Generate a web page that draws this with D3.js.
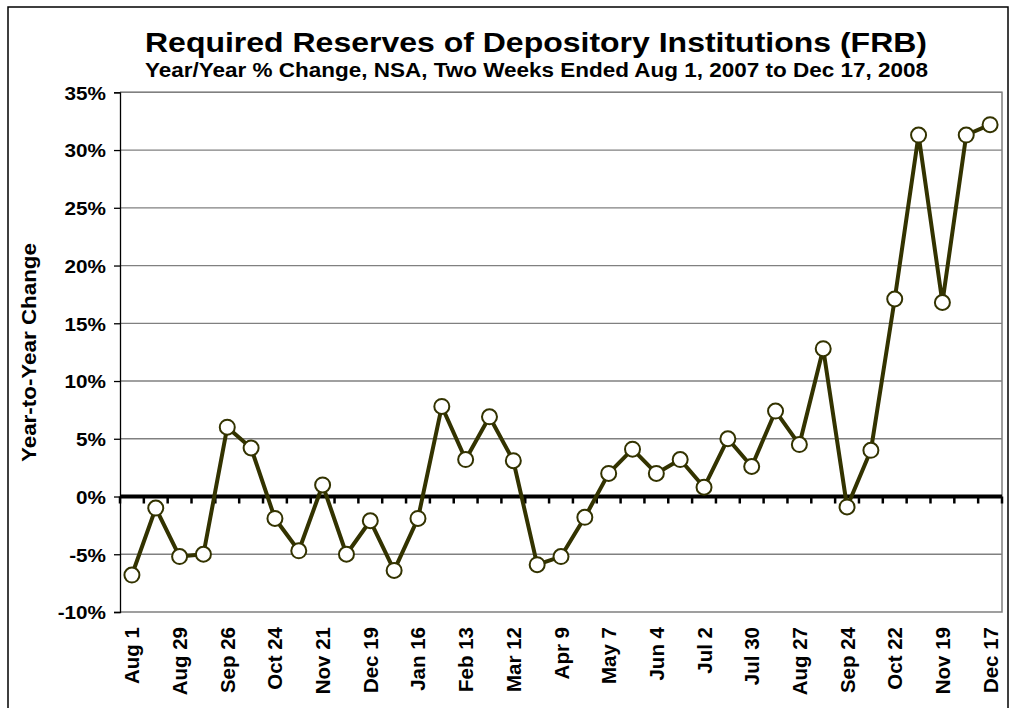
<!DOCTYPE html>
<html>
<head>
<meta charset="utf-8">
<script src="https://cdn.jsdelivr.net/npm/d3@7"></script>
<style>
  html, body { margin: 0; padding: 0; background: #fff; }
  svg { display: block; }
  text { font-family: "Liberation Sans", Arial, sans-serif; font-weight: bold; fill: #000; }
</style>
</head>
<body>
<svg id="chart" width="1010" height="708"></svg>
<script>
// ---- data ----
const categories = ["Aug 1","Aug 15","Aug 29","Sep 12","Sep 26","Oct 10","Oct 24","Nov 7","Nov 21","Dec 5",
  "Dec 19","Jan 2","Jan 16","Jan 30","Feb 13","Feb 27","Mar 12","Mar 26","Apr 9","Apr 23",
  "May 7","May 21","Jun 4","Jun 18","Jul 2","Jul 16","Jul 30","Aug 13","Aug 27","Sep 10",
  "Sep 24","Oct 8","Oct 22","Nov 5","Nov 19","Dec 3","Dec 17"];
const yoyChange = [-6.8,-1.0,-5.2,-5.0,6.0,4.2,-1.9,-4.7,1.0,-5.0,
  -2.1,-6.4,-1.9,7.8,3.2,6.9,3.1,-5.9,-5.2,-1.8,
  2.0,4.1,2.0,3.2,0.8,5.0,2.6,7.4,4.5,12.8,
  -0.9,4.0,17.1,31.3,16.8,31.3,32.2];
const yTicks = [-10,-5,0,5,10,15,20,25,30,35];
const shownLabels = categories.filter((d,i) => i % 2 === 0);
const titleText = "Required Reserves of Depository Institutions (FRB)";
const subtitleText = "Year/Year % Change, NSA, Two Weeks Ended Aug 1, 2007 to Dec 17, 2008";
const yTitleText = "Year-to-Year  Change";

// ---- layout ----
const svg = d3.select("#chart");
const plot = {left: 120, right: 1002, top: 92.3, bottom: 612};
const lineColor = "#333300";
const stretch = 1.09;

function widen(sel) {
  sel.each(function() {
    const w = this.getComputedTextLength();
    d3.select(this).attr("textLength", w * stretch).attr("lengthAdjust", "spacingAndGlyphs");
  });
}

// outer border
svg.append("rect").attr("x", 8).attr("y", 7).attr("width", 1000).attr("height", 710)
  .attr("fill", "none").attr("stroke", "#000").attr("stroke-width", 1.5);

const x = d3.scaleBand().domain(categories).range([plot.left, plot.right]).paddingInner(0).paddingOuter(0);
const y = d3.scaleLinear().domain([-10, 35]).range([plot.bottom, plot.top]);
const cx = d => x(d) + x.bandwidth() / 2;

// gridlines
svg.append("g").selectAll("line").data(yTicks.filter(t => t !== 0 && t !== -10)).join("line")
  .attr("x1", plot.left).attr("x2", plot.right)
  .attr("y1", d => y(d)).attr("y2", d => y(d))
  .attr("stroke", "#808080").attr("stroke-width", 1.3);

// plot frame (top, right, bottom gray)
svg.append("path")
  .attr("d", `M${plot.left},${y(35)}H${plot.right}V${y(-10)}H${plot.left}`)
  .attr("fill", "none").attr("stroke", "#808080").attr("stroke-width", 1.5);

// y axis
const yAxis = svg.append("g").attr("transform", `translate(${plot.left},0)`)
  .call(d3.axisLeft(y).tickValues(yTicks).tickFormat(d => d + "%").tickSize(6).tickPadding(8));
yAxis.select(".domain").attr("stroke", "#000").attr("stroke-width", 1.3);
yAxis.selectAll(".tick line").attr("stroke", "#000").attr("stroke-width", 1.3);
yAxis.selectAll("text").attr("font-size", 19).attr("font-family", "Liberation Sans, Arial, sans-serif")
  .attr("font-weight", "bold").attr("fill", "#000").attr("dy", "0.36em")
  .call(widen);

// zero axis with ticks at category boundaries
const zeroG = svg.append("g");
const boundaries = categories.map(c => x(c)).concat([plot.right]);
zeroG.selectAll("line.tk").data(boundaries).join("line").attr("class", "tk")
  .attr("x1", d => d).attr("x2", d => d).attr("y1", y(0)).attr("y2", y(0) + 7)
  .attr("stroke", "#000").attr("stroke-width", 2.5);
zeroG.append("line").attr("x1", plot.left).attr("x2", plot.right)
  .attr("y1", y(0)).attr("y2", y(0)).attr("stroke", "#000").attr("stroke-width", 4);

// x labels (rotated)
svg.append("g").selectAll("text").data(shownLabels).join("text")
  .attr("transform", d => `translate(${cx(d) + 7.5},${plot.bottom + 15}) rotate(-90)`)
  .attr("text-anchor", "end").attr("font-size", 20.5).text(d => d);

// line
const line = d3.line().x((d, i) => cx(categories[i])).y(d => y(d));
svg.append("path").datum(yoyChange).attr("d", line)
  .attr("fill", "none").attr("stroke", lineColor).attr("stroke-width", 4).attr("stroke-linejoin", "round");

// markers
svg.append("g").selectAll("circle").data(yoyChange).join("circle")
  .attr("cx", (d, i) => cx(categories[i])).attr("cy", d => y(d)).attr("r", 7.5)
  .attr("fill", "#fff").attr("stroke", lineColor).attr("stroke-width", 2);

// titles
svg.append("text").attr("x", 145).attr("y", 51.5).attr("font-size", 28.5)
  .attr("textLength", 782).attr("lengthAdjust", "spacingAndGlyphs").text(titleText);
svg.append("text").attr("x", 145).attr("y", 76.5).attr("font-size", 19.5)
  .attr("textLength", 783).attr("lengthAdjust", "spacingAndGlyphs").text(subtitleText);

// y title
svg.append("text").attr("transform", `translate(35.5,${(243 + 462) / 2}) rotate(-90)`)
  .attr("text-anchor", "middle").attr("font-size", 20)
  .attr("textLength", 219).attr("lengthAdjust", "spacingAndGlyphs").text(yTitleText);
</script>
</body>
</html>
